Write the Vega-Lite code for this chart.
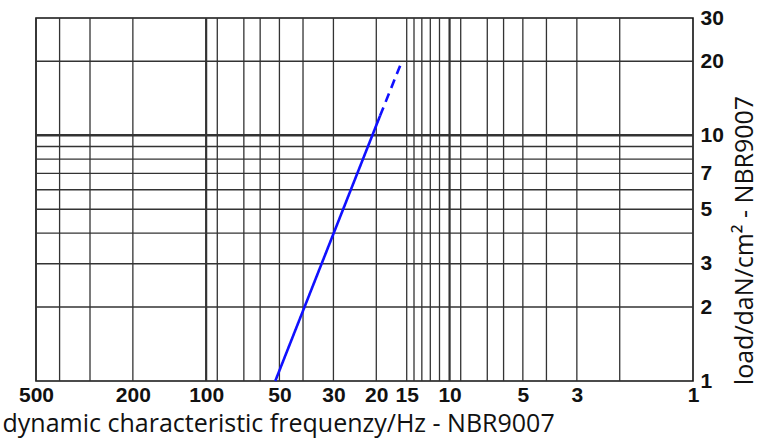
{
  "$schema": "https://vega.github.io/schema/vega-lite/v6.json",
  "autosize": "none",
  "width": 657,
  "height": 363,
  "padding": {"left": 36, "top": 18, "right": 65, "bottom": 62},
  "background": "white",
  "config": {
    "view": {"stroke": "#111", "strokeWidth": 1.6},
    "axis": {"grid": false, "ticks": false, "domain": false}
  },
  "datasets": {
    "vgrid": [
      {"f": 500}, {"f": 400}, {"f": 300}, {"f": 200}, {"f": 100}, {"f": 90}, {"f": 70}, {"f": 60}, {"f": 50}, {"f": 40}, {"f": 30}, {"f": 20}, {"f": 15}, {"f": 14}, {"f": 13}, {"f": 12}, {"f": 11}, {"f": 10}, {"f": 9}, {"f": 7}, {"f": 6}, {"f": 5}, {"f": 4}, {"f": 3}, {"f": 2}
    ],
    "hgrid": [
      {"load": 2}, {"load": 3}, {"load": 4}, {"load": 5}, {"load": 6}, {"load": 7}, {"load": 8}, {"load": 9}, {"load": 10}, {"load": 20}
    ],
    "curve": [
      {"f": 52, "load": 1, "seg": "solid"},
      {"f": 19.3, "load": 12, "seg": "solid"},
      {"f": 19.3, "load": 12, "seg": "dashed"},
      {"f": 15.7, "load": 20, "seg": "dashed"}
    ]
  },
  "layer": [
    {
      "data": {"name": "vgrid"},
      "mark": {"type": "rule", "color": "#333"},
      "encoding": {
        "x": {
          "field": "f", "type": "quantitative",
          "scale": {"type": "log", "domain": [1, 500], "reverse": true, "nice": false},
          "axis": {
            "orient": "bottom",
            "values": [500, 200, 100, 50, 30, 20, 15, 10, 5, 3, 1],
            "labelFont": "Liberation Sans", "labelFontWeight": "bold", "labelFontSize": 21,
            "labelColor": "#111", "labelPadding": 3, "labelFlush": false, "labelOverlap": false,
            "title": "dynamic characteristic frequenzy/Hz - NBR9007",
            "titleFont": "Open Sans", "titleFontWeight": 500, "titleFontSize": 25, "titleColor": "#111",
            "titleAnchor": "start", "titleAlign": "left", "titleBaseline": "alphabetic",
            "titleX": -34, "titleY": 50
          }
        },
        "strokeWidth": {"condition": {"test": "datum.f == 100 || datum.f == 10", "value": 2.2}, "value": 1.3}
      }
    },
    {
      "data": {"name": "hgrid"},
      "mark": {"type": "rule", "color": "#333"},
      "encoding": {
        "y": {
          "field": "load", "type": "quantitative",
          "scale": {"type": "log", "domain": [1, 30], "nice": false},
          "axis": {
            "orient": "right",
            "values": [1, 2, 3, 5, 7, 10, 20, 30],
            "labelFont": "Liberation Sans", "labelFontWeight": "bold", "labelFontSize": 21,
            "labelColor": "#111", "labelPadding": 7, "labelFlush": false, "labelOverlap": false,
            "title": "load/daN/cm² - NBR9007",
            "titleFont": "Open Sans", "titleFontWeight": 500, "titleFontSize": 25, "titleColor": "#111",
            "titleAngle": 270, "titleAnchor": null, "titleAlign": "center", "titleBaseline": "middle",
            "titleX": 51, "titleY": 222
          }
        },
        "strokeWidth": {"condition": {"test": "datum.load == 10", "value": 2.4}, "value": 1.3}
      }
    },
    {
      "data": {"name": "curve"},
      "mark": {"type": "line", "color": "#1010ff", "strokeWidth": 2.6},
      "encoding": {
        "x": {"field": "f", "type": "quantitative"},
        "y": {"field": "load", "type": "quantitative"},
        "strokeDash": {
          "field": "seg", "type": "nominal",
          "scale": {"domain": ["solid", "dashed"], "range": [[1, 0], [9, 6]]},
          "legend": null
        }
      }
    }
  ]
}
